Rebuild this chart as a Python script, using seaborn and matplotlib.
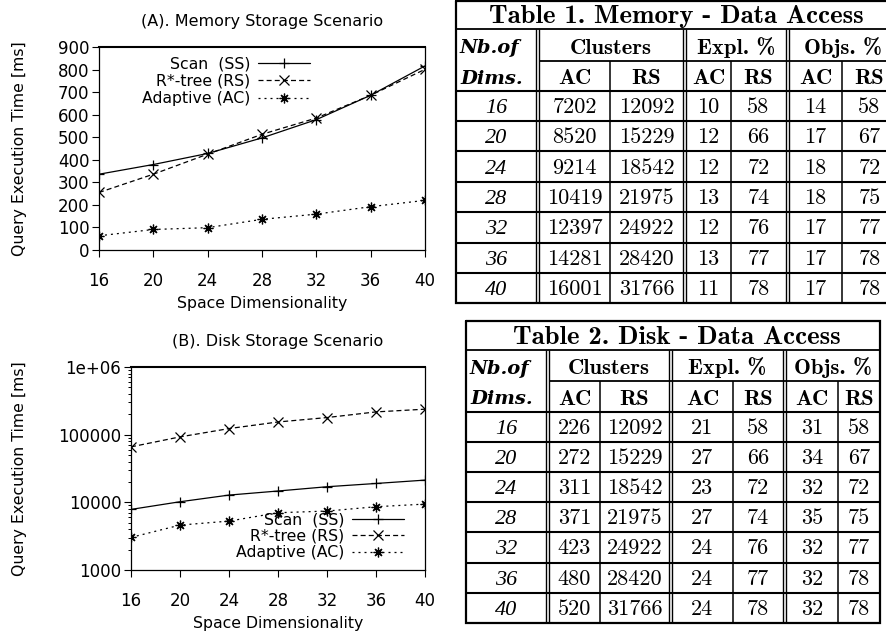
import matplotlib
matplotlib.use("Agg")
import matplotlib.pyplot as plt
import numpy as np
import pandas as pd
import seaborn as sns

# ---------------- data ----------------
dims = [16, 20, 24, 28, 32, 36, 40]
series_names = ["Scan  (SS)", "R*-tree (RS)", "Adaptive (AC)"]

mem_ss = [336, 379, 428, 497, 578, 686, 816]
mem_rs = [255, 336, 425, 513, 585, 686, 801]
mem_ac = [63, 91, 99, 136, 159, 192, 220]

disk_ss = [7860, 10200, 12800, 14700, 17000, 19000, 21300]
disk_rs = [66000, 92700, 123000, 154000, 179000, 217000, 238000]
disk_ac = [3030, 4610, 5280, 7020, 7430, 8610, 9420]

mem_yticks = [0, 100, 200, 300, 400, 500, 600, 700, 800, 900]
disk_yticks = [1000, 10000, 100000, 1000000]
disk_yticklabels = ["1000", "10000", "100000", "1e+06"]

chart_titles = ["(A). Memory Storage Scenario", "(B). Disk Storage Scenario"]
x_label = "Space Dimensionality"
y_label = "Query Execution Time [ms]"

table_titles = ["Table 1. Memory - Data Access", "Table 2. Disk - Data Access"]
row_head = ["Nb.of", "Dims."]
group_heads = ["Clusters", "Expl. %", "Objs. %"]
sub_heads = ["AC", "RS", "AC", "RS", "AC", "RS"]

t1_clusters_ac = [7202, 8520, 9214, 10419, 12397, 14281, 16001]
t1_clusters_rs = [12092, 15229, 18542, 21975, 24922, 28420, 31766]
t1_expl_ac = [10, 12, 12, 13, 12, 13, 11]
t1_expl_rs = [58, 66, 72, 74, 76, 77, 78]
t1_objs_ac = [14, 17, 18, 18, 17, 17, 17]
t1_objs_rs = [58, 67, 72, 75, 77, 78, 78]

t2_clusters_ac = [226, 272, 311, 371, 423, 480, 520]
t2_clusters_rs = [12092, 15229, 18542, 21975, 24922, 28420, 31766]
t2_expl_ac = [21, 27, 23, 27, 24, 24, 24]
t2_expl_rs = [58, 66, 72, 74, 76, 77, 78]
t2_objs_ac = [31, 34, 32, 35, 32, 32, 32]
t2_objs_rs = [58, 67, 72, 75, 77, 78, 78]

# ---------------- style ----------------
sns.set_theme(style="ticks")
plt.rcParams["font.family"] = ["DejaVu Sans"]
plt.rcParams["axes.edgecolor"] = "black"
plt.rcParams["xtick.color"] = "black"
plt.rcParams["ytick.color"] = "black"
plt.rcParams["text.color"] = "black"
plt.rcParams["axes.labelcolor"] = "black"

W, H = 886, 633
fig = plt.figure(figsize=(W / 100, H / 100), dpi=100)
fig.patch.set_facecolor("white")

# full-figure axes in pixel coordinates for the tables
tax = fig.add_axes([0, 0, 1, 1], zorder=0)
tax.set_xlim(0, W)
tax.set_ylim(H, 0)
tax.set_axis_off()


def px_axes(left, top, right, bottom):
    return fig.add_axes([left / W, 1 - bottom / H, (right - left) / W, (bottom - top) / H], zorder=2)


ax1 = px_axes(99, 47, 425, 250)
ax2 = px_axes(131, 367, 425, 570)

dash_map = {series_names[0]: "", series_names[1]: (4, 2.5), series_names[2]: (1.6, 3.2)}
marker_map = {series_names[0]: "+", series_names[1]: "x", series_names[2]: (8, 2, 0)}


def draw_chart(ax, ss, rs, ac):
    df = pd.DataFrame({
        "dim": dims * 3,
        "time": ss + rs + ac,
        "method": [n for n in series_names for _ in dims],
    })
    sns.lineplot(data=df, x="dim", y="time", style="method", style_order=series_names,
                 dashes=dash_map, markers=marker_map, color="black", linewidth=0.9,
                 markersize=7, mew=0.9, mec="black", legend=False, errorbar=None, ax=ax)
    for ln in ax.lines:
        ln.set_color("black")
        ln.set_markeredgecolor("black")
        ln.set_markerfacecolor("black")
        ln.set_markeredgewidth(0.9)
    ax.set_xlim(16, 40)
    ax.set_xticks(dims)
    ax.set_xlabel(x_label, fontsize=11.3, labelpad=4)
    ax.set_ylabel(y_label, fontsize=11.3)
    ax.tick_params(axis="both", which="major", direction="out", length=5.0, width=0.8,
                   labelsize=12, top=False, right=False)
    ax.tick_params(axis="x", which="major", pad=11)
    ax.tick_params(axis="y", which="major", pad=2)
    ax.tick_params(axis="both", which="minor", direction="out", length=2.5, width=0.7,
                   top=False, right=False)
    for s in ["left", "right", "bottom"]:
        ax.spines[s].set_linewidth(0.9)
        ax.spines[s].set_visible(True)
    ax.spines["top"].set_linewidth(1.5)
    ax.spines["top"].set_visible(True)
    ax.set_facecolor("none")


draw_chart(ax1, mem_ss, mem_rs, mem_ac)
ax1.set_ylim(0, 900)
ax1.set_yticks(mem_yticks)
ax1.set_title(chart_titles[0], fontsize=11.5, pad=15)
ax1.yaxis.set_label_coords(-0.221, 0.5)
ax1.legend(ax1.lines[:3], series_names, loc="upper right", bbox_to_anchor=(0.647, 0.955),
           markerfirst=False, frameon=False, handlelength=3.3, handletextpad=0.5,
           labelspacing=0.17, borderpad=0, borderaxespad=0, fontsize=11.3)

draw_chart(ax2, disk_ss, disk_rs, disk_ac)
ax2.set_yscale("log")
ax2.set_ylim(1000, 1000000)
ax2.set_yticks(disk_yticks)
ax2.set_yticklabels(disk_yticklabels)
ax2.set_title(chart_titles[1], fontsize=11.5, pad=15)
ax2.yaxis.set_label_coords(-0.354, 0.5)
ax2.legend(ax2.lines[:3], series_names, loc="upper right", bbox_to_anchor=(0.929, 0.285),
           markerfirst=False, frameon=False, handlelength=3.3, handletextpad=0.5,
           labelspacing=0.1, borderpad=0, borderaxespad=0, fontsize=11.3)


# ---------------- tables ----------------
def draw_table(xs, ys, title, title_cx, cols):
    left, d1, cmid, d2, emid, d3, omid, right = xs
    g = 3
    top, bottom = ys[0], ys[-1]
    k = "black"
    # outer border
    tax.plot([left, right, right, left, left], [top, top, bottom, bottom, top], color=k, lw=1.6,
             solid_joinstyle="miter", clip_on=False)
    # horizontal lines
    tax.hlines(ys[1], left, right, color=k, lw=1.3)
    tax.hlines(ys[2], d1 + g, right, color=k, lw=1.3)
    for y in ys[3:-1]:
        tax.hlines(y, left, right, color=k, lw=1.5)
    # double vertical lines
    for d in (d1, d2, d3):
        tax.vlines([d, d + g], ys[1], bottom, color=k, lw=1.0)
    # single vertical lines
    tax.vlines([cmid, emid, omid], ys[2], bottom, color=k, lw=1.1)

    # title
    tax.text(title_cx, (ys[0] + ys[1]) / 2 + 8.5, title, ha="center", va="baseline",
             fontfamily="cmb10", fontsize=19.3)
    # header rows
    dims_cx = (left + d1) / 2
    tax.text(left + 4, (ys[1] + ys[2]) / 2 + 8, row_head[0], ha="left", va="baseline",
             fontfamily="DejaVu Serif", fontweight="bold", fontstyle="italic", fontsize=14)
    tax.text(left + 4, (ys[2] + ys[3]) / 2 + 8, row_head[1], ha="left", va="baseline",
             fontfamily="DejaVu Serif", fontweight="bold", fontstyle="italic", fontsize=14)
    group_spans = [(d1 + g, d2), (d2 + g, d3), (d3 + g, right)]
    for (a, b), name in zip(group_spans, group_heads):
        tax.text((a + b) / 2, (ys[1] + ys[2]) / 2 + 9, name, ha="center", va="baseline",
                 fontfamily="cmb10", fontsize=16.3)
    col_spans = [(d1 + g, cmid), (cmid, d2), (d2 + g, emid), (emid, d3), (d3 + g, omid), (omid, right)]
    for (a, b), name in zip(col_spans, sub_heads):
        tax.text((a + b) / 2, (ys[2] + ys[3]) / 2 + 8.5, name, ha="center", va="baseline",
                 fontfamily="cmb10", fontsize=16.3)
    # data rows
    for i, dval in enumerate(dims):
        yb = (ys[3 + i] + ys[4 + i]) / 2 + 7
        tax.text(dims_cx, yb, str(dval), ha="center", va="baseline",
                 fontfamily="Liberation Serif", fontstyle="italic", fontsize=16)
        for (a, b), col in zip(col_spans, cols):
            tax.text((a + b) / 2, yb, str(col[i]), ha="center", va="baseline",
                     fontfamily="cmr10", fontsize=16)


draw_table([456, 536, 610, 683, 731, 786, 842, 897],
           [1, 29, 61, 91, 121, 151, 182, 212, 243, 273, 303],
           table_titles[0], 676.5,
           [t1_clusters_ac, t1_clusters_rs, t1_expl_ac, t1_expl_rs, t1_objs_ac, t1_objs_rs])
draw_table([466, 546, 600, 669, 733, 783, 838, 880],
           [321, 350, 381, 412, 442, 472, 502, 532, 563, 593, 623],
           table_titles[1], 676.5,
           [t2_clusters_ac, t2_clusters_rs, t2_expl_ac, t2_expl_rs, t2_objs_ac, t2_objs_rs])

fig.savefig("out.png", dpi=100, facecolor="white")
